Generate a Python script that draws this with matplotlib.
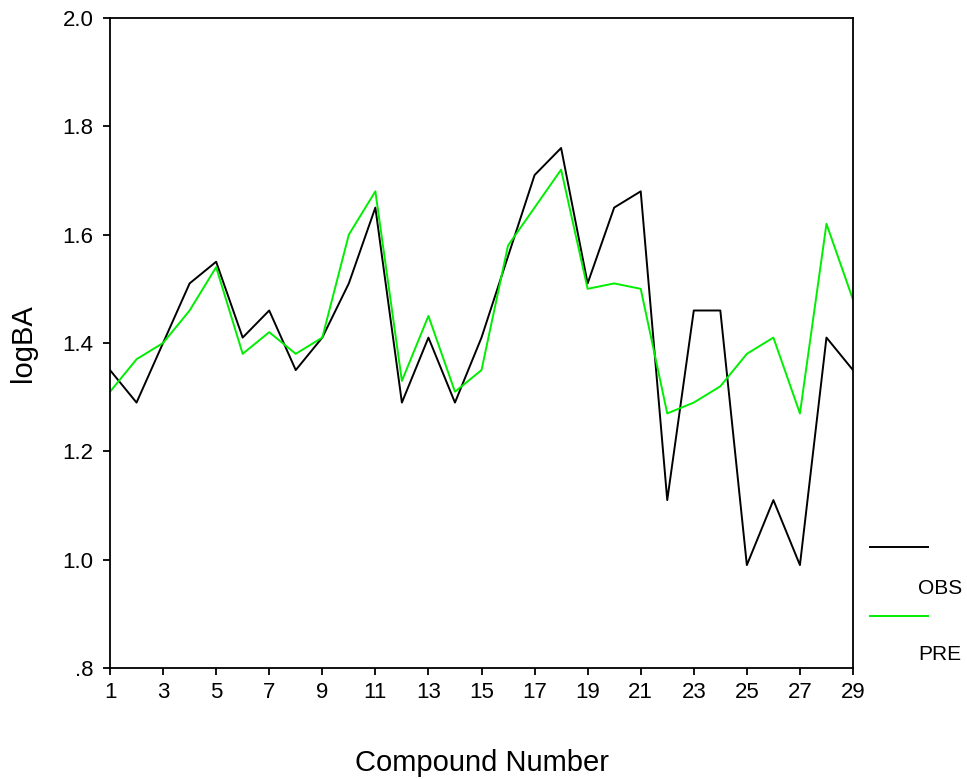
import matplotlib.pyplot as plt
from matplotlib.lines import Line2D
import numpy as np

plt.rcParams['font.family'] = ['Liberation Sans', 'DejaVu Sans']

compound = np.arange(1, 30)
obs = [1.35, 1.29, 1.40, 1.51, 1.55, 1.41, 1.46, 1.35, 1.41, 1.51,
       1.65, 1.29, 1.41, 1.29, 1.41, 1.56, 1.71, 1.76, 1.51, 1.65,
       1.68, 1.11, 1.46, 1.46, 0.99, 1.11, 0.99, 1.41, 1.35]
pre = [1.31, 1.37, 1.40, 1.46, 1.54, 1.38, 1.42, 1.38, 1.41, 1.60,
       1.68, 1.33, 1.45, 1.31, 1.35, 1.58, 1.65, 1.72, 1.50, 1.51,
       1.50, 1.27, 1.29, 1.32, 1.38, 1.41, 1.27, 1.62, 1.48]
xticks = list(range(1, 30, 2))
yticks = [0.8, 1.0, 1.2, 1.4, 1.6, 1.8, 2.0]
ytick_labels = ['.8', '1.0', '1.2', '1.4', '1.6', '1.8', '2.0']

W, H = 967, 779
fig = plt.figure(figsize=(W / 100, H / 100), dpi=100)
ax = fig.add_axes([110 / W, 1 - 668 / H, 743 / W, 650 / H])

ax.plot(compound, obs, color='black', lw=1.4)
ax.plot(compound, pre, color='#00ee00', lw=1.4)

ax.set_xlim(1, 29)
ax.set_ylim(0.8, 2.0)
ax.set_xticks(xticks)
ax.set_yticks(yticks)
ax.set_yticklabels(ytick_labels)
ax.tick_params(labelsize=16, length=5, width=1.3, direction='out')
ax.tick_params(axis='y', pad=7)
ax.tick_params(axis='x', pad=5)
for s in ax.spines.values():
    s.set_linewidth(1.3)

# axis titles placed like the SPSS output
fig.text(482 / W, 1 - 771 / H, 'Compound Number', fontsize=21,
         ha='center', va='baseline')
fig.text(23 / W, 1 - 343 / H, 'logBA', fontsize=21, rotation=90,
         ha='center', va='center')

# legend drawn SPSS style at right side
fig.add_artist(Line2D([870 / W, 928 / W], [1 - 547 / H] * 2, color='black', lw=1.4))
fig.text(918 / W, 1 - 588 / H, 'OBS', fontsize=15, va='center', ha='left')
fig.add_artist(Line2D([870 / W, 928 / W], [1 - 616 / H] * 2, color='#00ee00', lw=1.4))
fig.text(918 / W, 1 - 655 / H, 'PRE', fontsize=15, va='center', ha='left')

fig.savefig('out.png', dpi=100)
